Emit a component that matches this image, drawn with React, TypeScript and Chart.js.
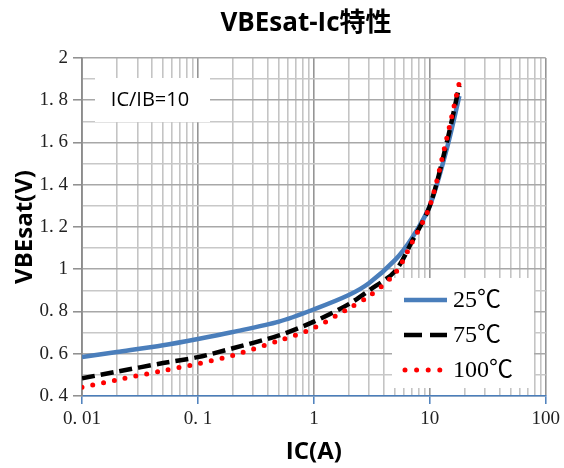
import React, { useEffect, useRef } from "react";
import { Chart, registerables } from "chart.js";

Chart.register(...registerables);

const TITLE = "VBEsat-Ic特性";
const X_TITLE = "IC(A)";
const Y_TITLE = "VBEsat(V)";
const NOTE = "IC/IB=10";

const IC = [0.01, 0.02, 0.05, 0.1, 0.2, 0.5, 1, 2, 3, 5, 7, 10, 14, 18];
const V25 = [0.584, 0.608, 0.64, 0.67, 0.703, 0.752, 0.81, 0.878, 0.935, 1.043, 1.147, 1.3, 1.57, 1.82];
const V75 = [0.484, 0.515, 0.556, 0.584, 0.626, 0.687, 0.752, 0.835, 0.9, 0.99, 1.13, 1.3, 1.6, 1.87];
const V100 = [0.441, 0.476, 0.52, 0.553, 0.592, 0.662, 0.722, 0.815, 0.873, 0.98, 1.125, 1.3, 1.62, 1.886];
const SERIES_LABELS = ["25℃", "75℃", "100℃"];

const X_DECADES = [0.01, 0.1, 1, 10, 100];
const X_TICK_LABELS = ["0. 01", "0. 1", "1", "10", "100"];
const Y_MIN = 0.4;
const Y_MAX = 2;
const Y_LABELED = [0.4, 0.6, 0.8, 1, 1.2, 1.4, 1.6, 1.8, 2];
const Y_TICK_LABELS = ["0. 4", "0. 6", "0. 8", "1", "1. 2", "1. 4", "1. 6", "1. 8", "2"];

const BLUE = "#4A7EBB";
const SERIF = "'Liberation Serif', 'Noto Sans CJK JP', serif";
const SANS = "'Open Sans', 'Noto Sans CJK JP', sans-serif";

const isDecade = (v: number) => X_DECADES.some((d) => Math.abs(v / d - 1) < 1e-6);
const yLabelIndex = (v: number) => Y_LABELED.findIndex((d) => Math.abs(v - d) < 1e-6);

const overlayPlugin = {
  id: "overlay",
  beforeDatasetsDraw(chart: any) {
    const ctx = chart.ctx as CanvasRenderingContext2D;
    const ys = chart.scales.y;
    ctx.save();
    // note box
    ctx.fillStyle = "#ffffff";
    ctx.fillRect(95, 78, 115, 44);
    ctx.fillStyle = "#000";
    ctx.font = `20px ${SANS}`;
    ctx.textAlign = "center";
    ctx.textBaseline = "middle";
    ctx.fillText(NOTE, 150, ys.getPixelForValue(1.8));
    // legend box
    ctx.fillStyle = "#ffffff";
    ctx.fillRect(392, 278, 142, 110);
    const rows = [300, 335, 370];
    chart.data.datasets.forEach((ds: any, i: number) => {
      const y = rows[i];
      ctx.save();
      ctx.strokeStyle = ds.borderColor;
      ctx.lineWidth = ds.borderWidth;
      ctx.lineCap = ds.borderCapStyle || "butt";
      ctx.setLineDash(ds.legendDash || []);
      ctx.beginPath();
      ctx.moveTo(ds.legendStart || 404, y);
      ctx.lineTo(447, y);
      ctx.stroke();
      ctx.restore();
      ctx.fillStyle = "#000";
      ctx.font = `24px ${SERIF}`;
      ctx.textAlign = "left";
      ctx.textBaseline = "middle";
      ctx.fillText(ds.label, 453, y + 1);
    });
    ctx.restore();
  },
  afterDraw(chart: any) {
    const ctx = chart.ctx as CanvasRenderingContext2D;
    ctx.save();
    ctx.fillStyle = "#000";
    ctx.font = `bold 26px ${SANS}`;
    ctx.textAlign = "center";
    ctx.textBaseline = "middle";
    ctx.fillText(TITLE, 306, 24);
    ctx.restore();
  },
};

export default function App() {
  const ref = useRef<HTMLCanvasElement | null>(null);
  useEffect(() => {
    if (!ref.current) return;
    const chart = new Chart(ref.current, {
      type: "line",
      data: {
        datasets: [
          {
            label: SERIES_LABELS[0],
            data: IC.map((x, i) => ({ x, y: V25[i] })),
            borderColor: BLUE,
            borderWidth: 4.5,
            pointRadius: 0,
            tension: 0.3,
            order: 2,
            legendDash: [],
          } as any,
          {
            label: SERIES_LABELS[1],
            data: IC.map((x, i) => ({ x, y: V75[i] })),
            borderColor: "#000000",
            borderWidth: 4.5,
            borderDash: [13, 6],
            pointRadius: 0,
            tension: 0.3,
            order: 1,
            legendDash: [18, 8],
          } as any,
          {
            label: SERIES_LABELS[2],
            data: IC.map((x, i) => ({ x, y: V100[i] })),
            borderColor: "#FF0000",
            borderWidth: 5,
            borderDash: [0, 11],
            borderCapStyle: "round",
            pointRadius: 0,
            tension: 0.3,
            order: 0,
            legendDash: [0, 11.6],
            legendStart: 405,
          } as any,
        ],
      },
      options: {
        animation: false,
        responsive: true,
        maintainAspectRatio: false,
        layout: { padding: { left: 0, right: 17, top: 58, bottom: 0 } },
        plugins: { legend: { display: false }, tooltip: { enabled: false }, title: { display: false } },
        scales: {
          x: {
            type: "logarithmic",
            min: 0.01,
            max: 100,
            afterBuildTicks: (scale: any) => {
              const t: any[] = [];
              for (let d = 0; d < X_DECADES.length - 1; d++) {
                for (let m = 1; m <= 9; m++) t.push({ value: X_DECADES[d] * m });
              }
              t.push({ value: X_DECADES[X_DECADES.length - 1] });
              scale.ticks = t;
            },
            afterFit: (scale: any) => {
              scale.height = 72;
            },
            ticks: {
              autoSkip: false,
              maxRotation: 0,
              padding: 4,
              color: "#222",
              font: { family: SERIF, size: 19 },
              callback: (v: any) => {
                const i = X_DECADES.findIndex((d) => Math.abs(Number(v) / d - 1) < 1e-6);
                return i >= 0 ? X_TICK_LABELS[i] : "";
              },
            },
            grid: {
              color: (c: any) => (isDecade(c.tick.value) ? "#959595" : "#c4c4c4"),
              lineWidth: 1.6,
              tickColor: (c: any) => (isDecade(c.tick.value) ? BLUE : "rgba(0,0,0,0)"),
              tickLength: 8,
              tickWidth: 1.5,
            },
            border: { color: BLUE, width: 1.6 },
            title: {
              display: true,
              text: X_TITLE,
              color: "#000",
              font: { family: SANS, size: 24, weight: "bold" },
              padding: { top: 0, bottom: 1 },
            },
          },
          y: {
            type: "linear",
            min: Y_MIN,
            max: Y_MAX,
            afterFit: (scale: any) => {
              scale.width = 82;
            },
            ticks: {
              stepSize: 0.1,
              autoSkip: false,
              padding: 5,
              color: "#222",
              font: { family: SERIF, size: 19 },
              callback: (v: any) => {
                const i = yLabelIndex(Number(v));
                return i >= 0 ? Y_TICK_LABELS[i] : "";
              },
            },
            grid: {
              color: (c: any) => (yLabelIndex(c.tick.value) >= 0 ? "#a8a8a8" : "#c8c8c8"),
              lineWidth: 1.6,
              tickColor: (c: any) => (yLabelIndex(c.tick.value) >= 0 ? "#8c8c8c" : "rgba(0,0,0,0)"),
              tickLength: 9,
              tickWidth: 1.5,
            },
            border: { color: "#8c8c8c", width: 1.8 },
            title: {
              display: true,
              text: Y_TITLE,
              color: "#000",
              font: { family: SANS, size: 24, weight: "bold" },
              padding: { top: 11, bottom: 0 },
            },
          },
        },
      } as any,
      plugins: [overlayPlugin],
    });
    return () => chart.destroy();
  }, []);
  return (
    <div style={{ position: "fixed", left: 0, top: 0, width: 564, height: 468, background: "#fff" }}>
      <canvas ref={ref} />
    </div>
  );
}
